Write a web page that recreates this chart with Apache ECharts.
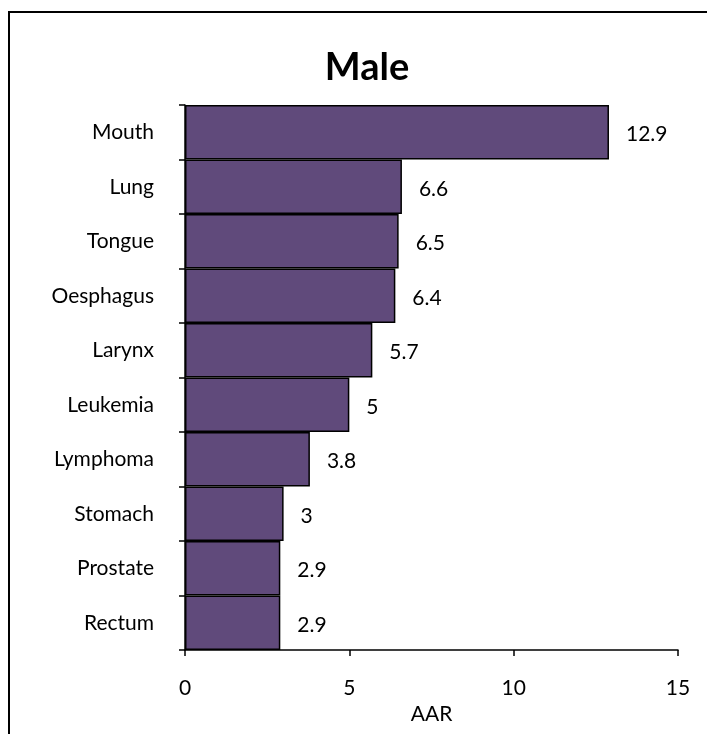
<!DOCTYPE html>
<html>
<head>
<meta charset="utf-8">
<script src="https://cdn.jsdelivr.net/npm/echarts@6/dist/echarts.min.js"></script>
<style>
html,body{margin:0;padding:0;background:#fff;}
#chart{width:707px;height:734px;}
</style>
</head>
<body>
<div id="chart"></div>
<script>
const categories = ["Mouth","Lung","Tongue","Oesphagus","Larynx","Leukemia","Lymphoma","Stomach","Prostate","Rectum"];
const values = [12.9, 6.6, 6.5, 6.4, 5.7, 5, 3.8, 3, 2.9, 2.9];
const xTicks = [0, 5, 10, 15];

const FONT = "Lato, 'Noto Sans', sans-serif";
const chart = echarts.init(document.getElementById('chart'), null, {renderer:'canvas'});
chart.setOption({
  animation: false,
  backgroundColor: '#fff',
  graphic: [{
    type: 'rect',
    shape: {x: 9, y: 12, width: 800, height: 800},
    style: {fill: 'none', stroke: '#000', lineWidth: 2},
    silent: true
  }],
  title: {
    text: 'Male',
    left: 362,
    top: 44,
    textAlign: 'center',
    textStyle: {fontFamily: FONT, fontWeight: 'bold', fontSize: 38, color: '#000'}
  },
  grid: {left: 185, right: 29, top: 105, bottom: 84, containLabel: false},
  xAxis: {
    type: 'value',
    min: xTicks[0],
    max: xTicks[xTicks.length-1],
    interval: 5,
    name: 'AAR',
    nameLocation: 'middle',
    nameGap: 51,
    nameTextStyle: {fontFamily: FONT, fontSize: 21, color: '#000'},
    axisLine: {show: true, lineStyle: {color: '#000', width: 1.5}},
    axisTick: {show: true, length: 6, lineStyle: {color: '#000', width: 1.5}},
    axisLabel: {fontFamily: FONT, fontSize: 21, color: '#000', margin: 28},
    splitLine: {show: false}
  },
  yAxis: {
    type: 'category',
    data: categories,
    inverse: true,
    axisLine: {show: true, lineStyle: {color: '#000', width: 1.5}},
    axisTick: {show: true, length: 6, alignWithLabel: false, lineStyle: {color: '#000', width: 1.5}},
    axisLabel: {fontFamily: FONT, fontSize: 21, color: '#000', margin: 31}
  },
  series: [{
    type: 'bar',
    data: values,
    barCategoryGap: '0%',
    itemStyle: {color: '#604A7B', borderColor: '#000', borderWidth: 1.5},
    label: {show: true, position: 'right', distance: 17, offset: [0, 2], fontFamily: FONT, fontSize: 21, color: '#000'}
  }]
});
</script>
</body>
</html>
